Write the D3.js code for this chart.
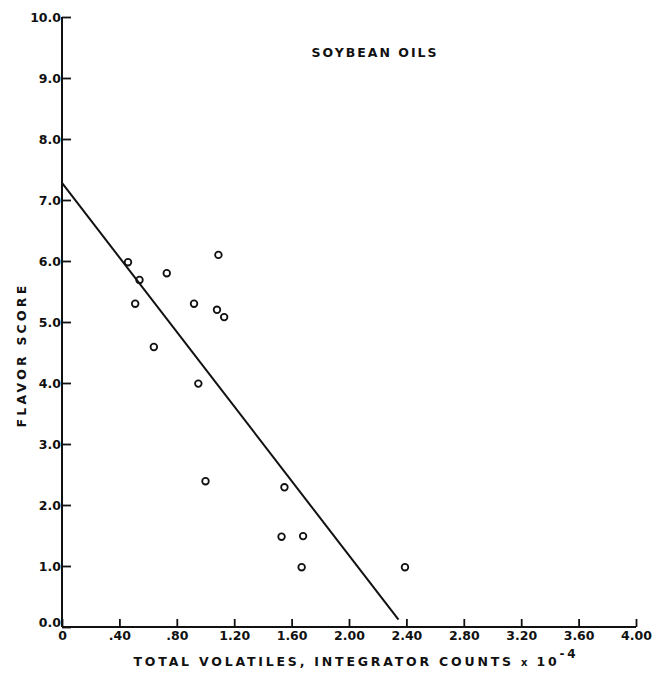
<!DOCTYPE html>
<html>
<head>
<meta charset="utf-8">
<script src="https://cdn.jsdelivr.net/npm/d3@7"></script>
<style>
  body { margin: 0; background: #fff; }
  text { font-family: "DejaVu Sans", sans-serif; font-weight: bold; fill: #111; }
</style>
</head>
<body>
<div id="chart"></div>
<script>
// soybean oils: flavor score against total volatiles

const volatiles = [0.46, 0.54, 0.51, 0.73, 0.64, 0.92, 1.09, 1.08, 1.13, 0.95, 1.00, 1.55, 1.53, 1.68, 1.67, 2.39]
const flavor    = [5.98, 5.69, 5.30, 5.80, 4.59, 5.30, 6.10, 5.20, 5.08, 3.99, 2.39, 2.29, 1.48, 1.49, 0.98, 0.98]

// regression line end points
const fitX = [0, 2.345]
const fitY = [7.28, 0.12]

const xTicks = [0, 0.4, 0.8, 1.2, 1.6, 2.0, 2.4, 2.8, 3.2, 3.6, 4.0]
const xTickLabels = ["0", ".40", ".80", "1.20", "1.60", "2.00", "2.40", "2.80", "3.20", "3.60", "4.00"]
const yTicks = [0, 1, 2, 3, 4, 5, 6, 7, 8, 9, 10]
const yTickLabels = ["0.0", "1.0", "2.0", "3.0", "4.0", "5.0", "6.0", "7.0", "8.0", "9.0", "10.0"]

let width = 652, height = 678

const svg = d3.select("#chart")
    .append("svg")
    .attr("width", width)
    .attr("height", height)

let x = d3.scaleLinear().domain([0, 4]).range([62, 636])
let y = d3.scaleLinear().domain([0, 10]).range([627, 17])

// x axis
let xAxis = svg.append("g")
    .attr("transform", "translate(0," + y(0) + ")")
    .call(d3.axisBottom(x)
        .tickValues(xTicks)
        .tickSize(-8)
        .tickPadding(4)
        .tickFormat((d, i) => xTickLabels[i]))

// y axis
let yAxis = svg.append("g")
    .attr("transform", "translate(" + x(0) + ",0)")
    .call(d3.axisLeft(y)
        .tickValues(yTicks)
        .tickSize(-9)
        .tickPadding(1)
        .tickFormat((d, i) => yTickLabels[i]))

svg.selectAll(".domain").attr("stroke", "#111").attr("stroke-width", 2)
svg.selectAll(".tick line").attr("stroke", "#111").attr("stroke-width", 1.8)
svg.selectAll(".tick text")
    .style("font-family", "'DejaVu Sans', sans-serif")
    .style("font-weight", "bold")
    .style("font-size", "12.5px")
    .attr("fill", "#111")
xAxis.selectAll(".domain").attr("d", "M" + x(0) + ",0H" + x(4))
yAxis.selectAll(".domain").attr("d", "M0," + y(0) + "V" + y(10))

// the 0.0 label sits a little above the corner, clear of the x "0"
yAxis.selectAll(".tick text")
    .filter((d) => d === 0)
    .attr("y", -5)

// regression line
svg.append("line")
    .attr("x1", x(fitX[0]))
    .attr("y1", y(fitY[0]))
    .attr("x2", x(fitX[1]))
    .attr("y2", y(fitY[1]))
    .attr("stroke", "#111")
    .attr("stroke-width", 2)

// points
svg.selectAll("circle")
    .data(volatiles)
    .enter()
    .append("circle")
        .attr("cx", (d) => x(d))
        .attr("cy", (d, i) => y(flavor[i]))
        .attr("r", 3.3)
        .attr("fill", "none")
        .attr("stroke", "#111")
        .attr("stroke-width", 1.8)

// title
svg.append("text")
    .attr("x", 375)
    .attr("y", 57)
    .attr("text-anchor", "middle")
    .style("font-size", "12.5px")
    .style("letter-spacing", "2px")
    .text("SOYBEAN OILS")

// axis titles
let xLabel = svg.append("text")
    .attr("x", 356)
    .attr("y", 666)
    .attr("text-anchor", "middle")
    .style("font-size", "12.5px")
    .style("letter-spacing", "2.8px")
xLabel.append("tspan").text("TOTAL VOLATILES, INTEGRATOR COUNTS ")
xLabel.append("tspan").style("font-size", "10px").text("x ")
xLabel.append("tspan").text("10")
xLabel.append("tspan").attr("dy", -8).style("font-size", "12px").text("-4")

svg.append("text")
    .attr("transform", "translate(26,355) rotate(-90)")
    .attr("text-anchor", "middle")
    .style("font-size", "12.5px")
    .style("letter-spacing", "3.2px")
    .text("FLAVOR SCORE")
</script>
</body>
</html>
